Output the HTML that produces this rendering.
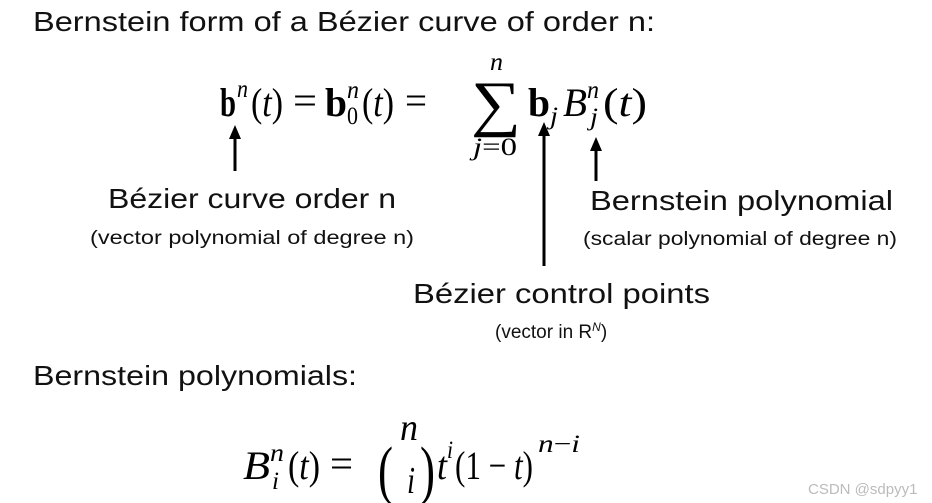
<!DOCTYPE html>
<html><head><meta charset="utf-8"><style>
html,body{margin:0;padding:0;background:#fff;}
svg{display:block;}
.s{font-family:"Liberation Sans",sans-serif;fill:#111;}
.m{font-family:"Liberation Serif",serif;fill:#000;}
</style></head><body>
<svg width="932" height="503" viewBox="0 0 932 503" xmlns="http://www.w3.org/2000/svg">
<rect width="932" height="503" fill="#fff"/>
<text class="s" x="33" y="31" font-size="28" textLength="622" lengthAdjust="spacingAndGlyphs">Bernstein form of a Bézier curve of order n:</text>

<!-- formula 1 -->
<g class="m" font-size="40">
<text x="220" y="116" font-weight="bold" textLength="16" lengthAdjust="spacingAndGlyphs">b</text>
<text x="237" y="97" font-size="25" font-style="italic" textLength="11" lengthAdjust="spacingAndGlyphs">n</text>
<text x="251" y="116" textLength="32" lengthAdjust="spacingAndGlyphs">(<tspan font-style="italic">t</tspan>)</text>
<text x="293" y="114" textLength="24" lengthAdjust="spacingAndGlyphs">=</text>
<text x="325" y="116" font-weight="bold" textLength="22" lengthAdjust="spacingAndGlyphs">b</text>
<text x="347" y="98" font-size="25" font-style="italic" textLength="12" lengthAdjust="spacingAndGlyphs">n</text>
<text x="347" y="124" font-size="25" textLength="11" lengthAdjust="spacingAndGlyphs">0</text>
<text x="362" y="116" textLength="32" lengthAdjust="spacingAndGlyphs">(<tspan font-style="italic">t</tspan>)</text>
<text x="405" y="114" textLength="22" lengthAdjust="spacingAndGlyphs">=</text>
<text x="471" y="124" font-size="62" textLength="50" lengthAdjust="spacingAndGlyphs">∑</text>
<text x="490" y="70" font-size="25" font-style="italic" textLength="13" lengthAdjust="spacingAndGlyphs">n</text>
<text x="473" y="155" font-size="25" textLength="44" lengthAdjust="spacingAndGlyphs"><tspan font-style="italic">j</tspan>=0</text>
<text x="528" y="116" font-weight="bold" textLength="22" lengthAdjust="spacingAndGlyphs">b</text>
<text x="550" y="124" font-size="25" font-style="italic" textLength="8" lengthAdjust="spacingAndGlyphs">j</text>
<text x="563" y="116" font-style="italic" textLength="24" lengthAdjust="spacingAndGlyphs">B</text>
<text x="587" y="98" font-size="25" font-style="italic" textLength="12" lengthAdjust="spacingAndGlyphs">n</text>
<text x="590" y="125" font-size="25" font-style="italic" textLength="8" lengthAdjust="spacingAndGlyphs">j</text>
<text x="603" y="116" textLength="44" lengthAdjust="spacingAndGlyphs">(<tspan font-style="italic">t</tspan>)</text>
</g>

<!-- arrows -->
<g stroke="#000" stroke-width="3" fill="none">
<line x1="235" y1="136" x2="235" y2="171"/>
<line x1="544" y1="133" x2="544" y2="266"/>
<line x1="596" y1="148" x2="596" y2="181"/>
</g>
<g fill="#000">
<polygon points="235,125 229,139 241,139"/>
<polygon points="544,122 538,136 550,136"/>
<polygon points="596,137 590,151 602,151"/>
</g>

<text class="s" x="252" y="208" font-size="28" text-anchor="middle" textLength="288" lengthAdjust="spacingAndGlyphs">Bézier curve order n</text>
<text class="s" x="252" y="244" font-size="19" text-anchor="middle" textLength="324" lengthAdjust="spacingAndGlyphs">(vector polynomial of degree n)</text>
<text class="s" x="590" y="210" font-size="28" textLength="303" lengthAdjust="spacingAndGlyphs">Bernstein polynomial</text>
<text class="s" x="583" y="245" font-size="19" textLength="314" lengthAdjust="spacingAndGlyphs">(scalar polynomial of degree n)</text>
<text class="s" x="413" y="303" font-size="28" textLength="297" lengthAdjust="spacingAndGlyphs">Bézier control points</text>
<text class="s" x="495" y="338" font-size="19">(vector in R<tspan font-size="12" dy="-7" font-style="italic">N</tspan><tspan dy="7">)</tspan></text>

<text class="s" x="33" y="385" font-size="28" textLength="324" lengthAdjust="spacingAndGlyphs">Bernstein polynomials:</text>

<!-- formula 2 -->
<g class="m" font-size="40">
<text x="243" y="479" font-style="italic" textLength="27" lengthAdjust="spacingAndGlyphs">B</text>
<text x="270" y="461" font-size="25" font-style="italic" textLength="14" lengthAdjust="spacingAndGlyphs">n</text>
<text x="272" y="489" font-size="25" font-style="italic" textLength="7" lengthAdjust="spacingAndGlyphs">i</text>
<text x="288" y="479" textLength="32" lengthAdjust="spacingAndGlyphs">(<tspan font-style="italic">t</tspan>)</text>
<text x="330" y="477" textLength="23" lengthAdjust="spacingAndGlyphs">=</text>
<text x="378" y="492" font-size="66" textLength="15" lengthAdjust="spacingAndGlyphs">(</text>
<text x="400" y="440" font-size="38" font-style="italic" textLength="18" lengthAdjust="spacingAndGlyphs">n</text>
<text x="407" y="493" font-size="38" font-style="italic" textLength="8" lengthAdjust="spacingAndGlyphs">i</text>
<text x="420" y="492" font-size="66" textLength="15" lengthAdjust="spacingAndGlyphs">)</text>
<text x="437" y="479" font-style="italic" textLength="10" lengthAdjust="spacingAndGlyphs">t</text>
<text x="447" y="458" font-size="25" font-style="italic" textLength="6" lengthAdjust="spacingAndGlyphs">i</text>
<text x="455" y="479" textLength="78" lengthAdjust="spacingAndGlyphs">(1 − <tspan font-style="italic">t</tspan>)</text>
<text x="538" y="452" font-size="25" textLength="42" lengthAdjust="spacingAndGlyphs"><tspan font-style="italic">n</tspan>−<tspan font-style="italic">i</tspan></text>
</g>

<text x="808" y="494" font-family="Liberation Sans,sans-serif" font-size="15" fill="#bbb">CSDN @sdpyy1</text>
</svg>
</body></html>
